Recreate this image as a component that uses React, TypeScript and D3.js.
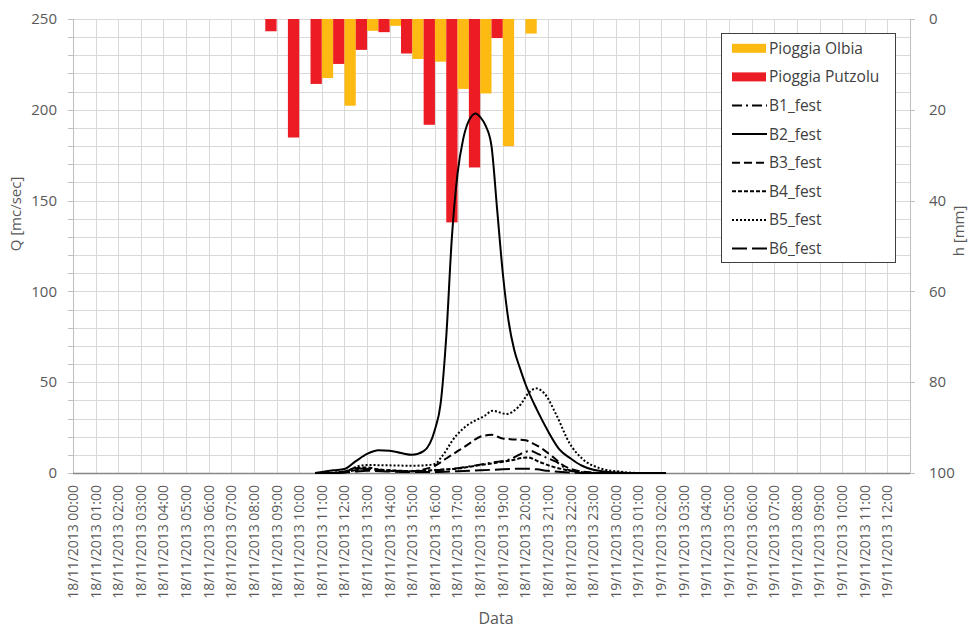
import React, { useRef, useEffect } from "react";
import * as d3 from "d3";

const W = 970;
const H = 631;

// hourly rain (mm), one bar pair per hour interval starting at these hours of 18/11
const rainHours = [8, 9, 10, 11, 12, 13, 14, 15, 16, 17, 18, 19, 20];
const olbia = [0, 0, 0, 13.0, 19.1, 2.6, 1.5, 8.8, 9.4, 15.4, 16.4, 28.0, 3.2];
const putzolu = [2.7, 26.1, 14.3, 9.9, 6.8, 2.9, 7.6, 23.3, 44.8, 32.7, 4.2, 0, 0];

// discharge Q [mc/sec] as [hours after 18/11/2013 00:00, Q]
const b1 = [[10.7, 0], [11.3, 0], [12, 0.8], [12.5, 2.5], [13, 2.2], [13.5, 1.5], [14, 1.5], [14.5, 1], [15, 1], [15.5, 1.2], [16, 1.5], [16.5, 2], [17.1, 2.8], [17.8, 4.2], [18.55, 5.8], [19.3, 7.5], [19.7, 9.9], [20, 11.7], [20.25, 12.1], [20.5, 10.8], [20.9, 8.6], [21.35, 6.2], [21.9, 1.7], [22.5, 0.3], [23.5, 0], [26.2, 0]];
const b2 = [[10.7, 0], [11, 0.6], [11.5, 1.5], [12, 2.2], [12.5, 6.5], [13, 10.5], [13.5, 12.5], [14, 12.3], [14.5, 11], [15, 10], [15.5, 12], [16, 24], [16.25, 38], [16.5, 75], [16.75, 130], [17, 165], [17.25, 184], [17.5, 194], [17.8, 198], [18, 196], [18.25, 191], [18.5, 180], [18.75, 145], [19, 110], [19.25, 84], [19.5, 68], [19.75, 58], [20, 49], [20.5, 35], [21, 23], [21.5, 13], [22, 8], [22.5, 4], [23, 1.8], [23.5, 0.8], [24, 0.3], [24.5, 0], [26.2, 0]];
const b3 = [[10.7, 0], [11.5, 0], [12.5, 1.5], [13, 2.2], [13.5, 1.8], [14, 1.2], [14.5, 1], [15, 1], [15.5, 2], [16, 4], [16.5, 8], [17, 12], [17.5, 16], [18, 20], [18.5, 21], [19, 19], [19.5, 18.5], [20, 18], [20.3, 16.5], [20.6, 14.5], [21.2, 9], [21.65, 4.4], [22.2, 1.5], [22.7, 0.5], [23.5, 0], [26.2, 0]];
const b4 = [[10.7, 0], [11.3, 0], [12, 0.8], [12.5, 2.8], [13, 3], [13.5, 2], [14, 1.5], [14.5, 1.2], [15, 1], [15.5, 1.3], [16, 1.6], [16.5, 2], [17.1, 2.6], [17.8, 4], [18.55, 5.3], [19.3, 6.8], [20.1, 8.6], [20.6, 6.2], [21.2, 3.5], [21.8, 1.7], [22.4, 0.5], [23.5, 0], [26.2, 0]];
const b5 = [[10.7, 0], [12, 0.3], [12.3, 2], [12.6, 3.8], [13, 4.4], [14, 4.2], [15, 4], [15.5, 4.2], [16, 5], [16.3, 9], [16.9, 20], [17.4, 26], [17.8, 29], [18.2, 31.5], [18.55, 34.3], [19.15, 32.5], [19.7, 36.5], [20.2, 44.8], [20.47, 46.6], [20.84, 43.9], [21.36, 32], [21.95, 16.4], [22.5, 8], [23.3, 2.6], [24.2, 0.7], [25, 0], [26.2, 0]];
const b6 = [[10.7, 0], [11.5, 0], [12.5, 0.8], [13, 1.2], [14, 0.8], [15, 0.6], [16, 0.6], [17, 1], [18, 1.5], [19, 2], [20, 2.4], [20.5, 2], [21, 1.2], [22, 0.3], [23, 0], [26.2, 0]];

const seriesNames = ["B1_fest", "B2_fest", "B3_fest", "B4_fest", "B5_fest", "B6_fest"];
const seriesData = [b1, b2, b3, b4, b5, b6];
const seriesDash = ["10,4,2,4", null, "8,4", "4,2", "2,2", "15,5"];

const qTicks = [0, 50, 100, 150, 200, 250];
const hTicks = [0, 20, 40, 60, 80, 100];

const t0 = new Date(2013, 10, 18, 0, 0);
const labelDates = d3.timeHour.range(t0, d3.timeHour.offset(t0, 37));
const fmt = d3.timeFormat("%d/%m/%Y %H:%M");

const YELLOW = "#FCBA12";
const RED = "#EC1C24";
const FONT = "'Open Sans', sans-serif";

const App = () => {
  const svgRef = useRef();

  useEffect(() => {
    const svg = d3.select(svgRef.current);
    svg.selectAll("*").remove();

    const left = 73, right = 910, top = 19, bottom = 473;
    const at = (h) => d3.timeMinute.offset(t0, Math.round(h * 60));

    const x = d3.scaleTime()
      .domain([t0, d3.timeHour.offset(t0, 37)])
      .range([left, right]);
    const yQ = d3.scaleLinear().domain([0, 250]).range([bottom, top]);
    const yH = d3.scaleLinear().domain([0, 100]).range([top, bottom]);

    // gridlines
    const grid = svg.append("g").attr("stroke", "#d9d9d9").attr("stroke-width", 1);
    grid.selectAll("line.h")
      .data(d3.range(10, 251, 10))
      .enter().append("line")
      .attr("x1", left).attr("x2", right)
      .attr("y1", d => Math.round(yQ(d)) + 0.5).attr("y2", d => Math.round(yQ(d)) + 0.5);
    grid.selectAll("line.v")
      .data(labelDates.slice(1))
      .enter().append("line")
      .attr("y1", top).attr("y2", bottom)
      .attr("x1", d => Math.round(x(d)) + 0.5).attr("x2", d => Math.round(x(d)) + 0.5);

    // rain bars hanging from the top
    const bars = svg.append("g");
    rainHours.forEach((hr, i) => {
      const x0 = x(at(hr));
      const x1 = x(at(hr + 1));
      const mid = (x0 + x1) / 2;
      if (olbia[i] > 0) {
        bars.append("rect")
          .attr("x", x0).attr("width", mid - x0)
          .attr("y", yH(0)).attr("height", yH(olbia[i]) - yH(0))
          .attr("fill", YELLOW);
      }
      if (putzolu[i] > 0) {
        bars.append("rect")
          .attr("x", mid).attr("width", x1 - mid)
          .attr("y", yH(0)).attr("height", yH(putzolu[i]) - yH(0))
          .attr("fill", RED);
      }
    });

    // axes
    const axes = svg.append("g").attr("fill", "none");
    axes.append("line").attr("x1", left + 0.5).attr("x2", left + 0.5).attr("y1", top).attr("y2", bottom)
      .attr("stroke", "#bfbfbf");
    axes.append("line").attr("x1", right + 0.5).attr("x2", right + 0.5).attr("y1", top).attr("y2", bottom)
      .attr("stroke", "#bfbfbf");
    axes.selectAll("line.lt")
      .data(d3.range(0, 251, 10))
      .enter().append("line")
      .attr("x1", left - 5).attr("x2", left)
      .attr("y1", d => Math.round(yQ(d)) + 0.5).attr("y2", d => Math.round(yQ(d)) + 0.5)
      .attr("stroke", "#bfbfbf");
    axes.selectAll("line.rt")
      .data(hTicks)
      .enter().append("line")
      .attr("x1", right).attr("x2", right + 5)
      .attr("y1", d => Math.round(yH(d)) + 0.5).attr("y2", d => Math.round(yH(d)) + 0.5)
      .attr("stroke", "#bfbfbf");
    axes.append("line").attr("x1", left).attr("x2", right).attr("y1", bottom + 0.5).attr("y2", bottom + 0.5)
      .attr("stroke", "#868686").attr("stroke-width", 1.5);

    // discharge lines
    const line = d3.line()
      .x(d => x(at(d[0])))
      .y(d => yQ(d[1]))
      .curve(d3.curveMonotoneX);
    const lines = svg.append("g");
    seriesData.forEach((s, i) => {
      lines.append("path")
        .attr("d", line(s))
        .attr("fill", "none")
        .attr("stroke", "#000")
        .attr("stroke-width", 2)
        .attr("stroke-dasharray", seriesDash[i]);
    });

    // tick labels
    const txt = svg.append("g").attr("font-family", FONT).attr("fill", "#595959");
    txt.selectAll("text.ql")
      .data(qTicks)
      .enter().append("text")
      .attr("x", 57).attr("y", d => yQ(d)).attr("dy", "0.35em")
      .attr("text-anchor", "end").attr("font-size", 15)
      .text(d => d);
    txt.selectAll("text.hl")
      .data(hTicks)
      .enter().append("text")
      .attr("x", 929).attr("y", d => yH(d)).attr("dy", "0.35em")
      .attr("text-anchor", "start").attr("font-size", 15)
      .text(d => d);
    txt.selectAll("text.xl")
      .data(labelDates)
      .enter().append("text")
      .attr("transform", d => `translate(${x(d)},485) rotate(-90)`)
      .attr("dy", "0.35em")
      .attr("text-anchor", "end").attr("font-size", 14)
      .text(d => fmt(d));

    // axis titles
    txt.append("text")
      .attr("transform", "translate(21,214) rotate(-90)")
      .attr("text-anchor", "middle").attr("font-size", 15)
      .text("Q [mc/sec]");
    txt.append("text")
      .attr("transform", "translate(964,231) rotate(-90)")
      .attr("text-anchor", "middle").attr("font-size", 15)
      .text("h [mm]");
    txt.append("text")
      .attr("x", 496).attr("y", 624)
      .attr("text-anchor", "middle").attr("font-size", 16)
      .text("Data");

    // legend
    const lg = svg.append("g");
    lg.append("rect")
      .attr("x", 721.5).attr("y", 33.5).attr("width", 174).attr("height", 229)
      .attr("fill", "#fff").attr("stroke", "#404040").attr("stroke-width", 1);
    const rowY = (i) => 48.3 + i * 28.6;
    [["Pioggia Olbia", YELLOW], ["Pioggia Putzolu", RED]].forEach(([name, col], i) => {
      lg.append("rect").attr("x", 732).attr("y", rowY(i) - 4.5).attr("width", 34).attr("height", 9).attr("fill", col);
    });
    seriesNames.forEach((name, i) => {
      lg.append("line")
        .attr("x1", 732).attr("x2", 767)
        .attr("y1", rowY(i + 2)).attr("y2", rowY(i + 2))
        .attr("stroke", "#000").attr("stroke-width", 2)
        .attr("stroke-dasharray", seriesDash[i]);
    });
    lg.selectAll("text")
      .data(["Pioggia Olbia", "Pioggia Putzolu", ...seriesNames])
      .enter().append("text")
      .attr("x", 769).attr("y", (d, i) => rowY(i)).attr("dy", "0.35em")
      .attr("font-family", FONT).attr("font-size", 15.5).attr("fill", "#404040")
      .text(d => d);
  }, []);

  return (
    <svg ref={svgRef} width={W} height={H}
      style={{ position: "absolute", left: 0, top: 0, background: "#fff" }}></svg>
  );
};

export default App;
